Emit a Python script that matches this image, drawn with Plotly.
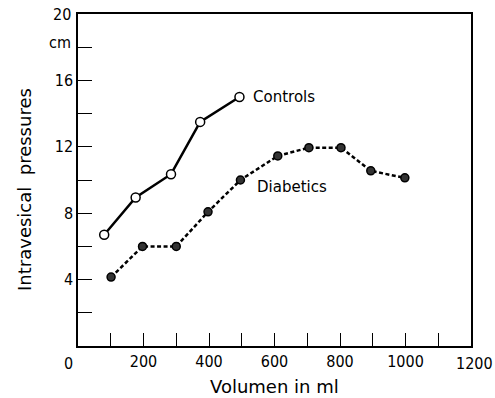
import plotly.graph_objects as go

controls_x = [80, 176, 284, 373, 493]
controls_y = [6.7, 8.95, 10.35, 13.5, 15.0]
diabetics_x = [101, 197, 300, 397, 496, 610, 705, 803, 894, 998]
diabetics_y = [4.15, 6.0, 6.0, 8.08, 10.0, 11.45, 11.95, 11.95, 10.55, 10.13]

x_tickvals = [100, 200, 300, 400, 500, 600, 700, 800, 900, 1000, 1100]
x_ticktext = ["", "200", "", "400", "", "600", "", "800", "", "1000", ""]
y_tickvals = [2, 4, 6, 8, 10, 12, 14, 16, 18]
y_ticktext = ["", "4", "", "8", "", "12", "", "16", ""]

FONT = "DejaVu Sans Condensed, DejaVu Sans, sans-serif"
FONT2 = "DejaVu Sans, sans-serif"

fig = go.Figure()
fig.add_trace(go.Scatter(
    x=controls_x, y=controls_y, mode="lines+markers",
    line=dict(color="black", width=2.5),
    marker=dict(symbol="circle", size=9, color="white",
                line=dict(color="black", width=1.5)),
    showlegend=False))
fig.add_trace(go.Scatter(
    x=diabetics_x, y=diabetics_y, mode="lines+markers",
    line=dict(color="black", width=2.5, dash="4px,2.5px"),
    marker=dict(symbol="circle", size=8, color="#333",
                line=dict(color="black", width=1.5)),
    showlegend=False))

fig.update_xaxes(range=[0, 1200], tickvals=x_tickvals, ticktext=x_ticktext,
                 ticks="inside", ticklen=13, tickwidth=1.2, tickcolor="black",
                 showline=True, linecolor="black", linewidth=1.5, mirror=True,
                 showgrid=False, zeroline=False,
                 tickfont=dict(family=FONT, size=16, color="black"))
fig.update_yaxes(range=[0, 20], tickvals=y_tickvals, ticktext=y_ticktext,
                 ticks="inside", ticklen=14, tickwidth=1.2, tickcolor="black",
                 showline=True, linecolor="black", linewidth=1.5, mirror=True,
                 showgrid=False, zeroline=False,
                 tickfont=dict(family=FONT, size=16, color="black"))

ann = [
    dict(text="20", x=0, xref="paper", y=20, yref="y", xanchor="right",
         yanchor="middle", xshift=-5, showarrow=False),
    dict(text="cm", x=0, xref="paper", y=18, yref="y", xanchor="right",
         yanchor="middle", xshift=-5, yshift=5, showarrow=False),
    dict(text="0", x=0, xref="x", y=0, yref="y", xanchor="center",
         yanchor="top", xshift=-10, yshift=-6, showarrow=False),
    dict(text="1200", x=1200, xref="x", y=0, yref="y", xanchor="center",
         yanchor="top", yshift=-6, xshift=3, showarrow=False),
    dict(text="Controls", x=528, y=15.0, xref="x", yref="y", xanchor="left",
         yanchor="middle", showarrow=False,
         font=dict(family=FONT2, size=15, color="black")),
    dict(text="Diabetics", x=540, y=9.57, xref="x", yref="y", xanchor="left",
         yanchor="middle", showarrow=False,
         font=dict(family=FONT2, size=15, color="black")),
    dict(text="Volumen in ml", x=0.5, xref="paper", y=0, yref="paper",
         xanchor="center", yanchor="middle", yshift=-40, showarrow=False,
         font=dict(family=FONT2, size=18, color="black")),
    dict(text="Intravesical  pressures", x=0, xref="paper", y=0.47, yref="paper",
         xanchor="center", yanchor="middle", xshift=-53, textangle=-90,
         showarrow=False, font=dict(family=FONT2, size=18, color="black")),
]
for a in ann:
    a.setdefault("font", dict(family=FONT, size=16, color="black"))
fig.update_layout(
    annotations=ann,
    width=495, height=398,
    margin=dict(l=78, r=24, t=14, b=52),
    paper_bgcolor="white", plot_bgcolor="white",
)
fig.write_html("out.html", config={"displayModeBar": False},
               post_script="document.body.style.margin='0';document.body.style.overflow='hidden';")
